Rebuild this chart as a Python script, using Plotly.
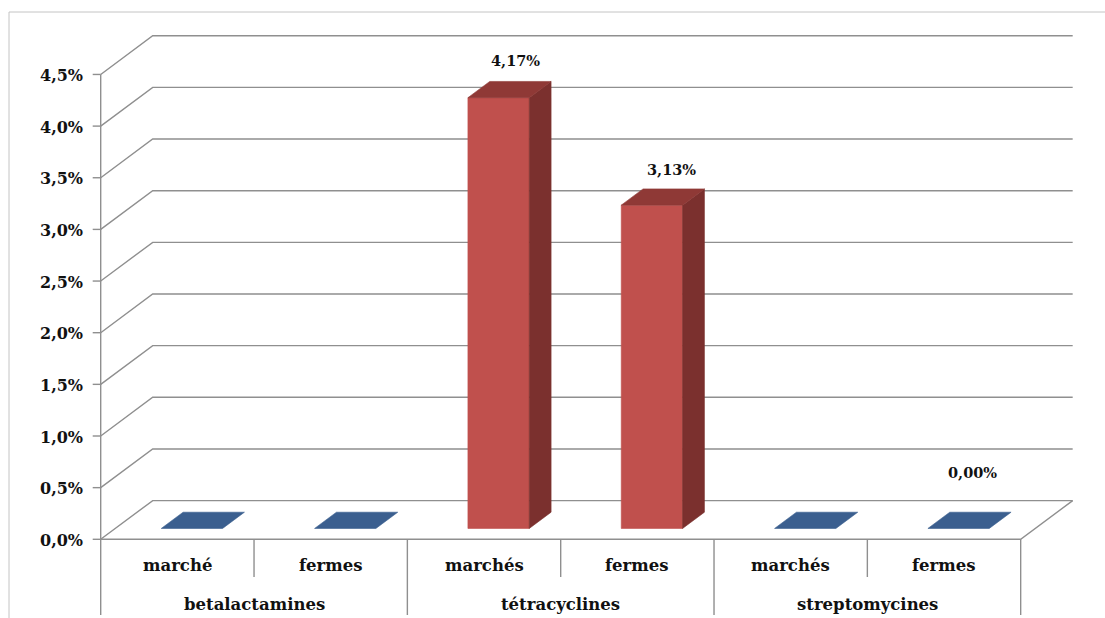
import plotly.graph_objects as go

# ---------------- data ----------------
groups = ["betalactamines", "tétracyclines", "streptomycines"]
subcategories = ["marché", "fermes", "marchés", "fermes", "marchés", "fermes"]
values = [0.0, 0.0, 4.17, 3.13, 0.0, 0.0]
value_label_shown = [False, False, True, True, False, True]
y_tick_values = [0.0, 0.5, 1.0, 1.5, 2.0, 2.5, 3.0, 3.5, 4.0, 4.5]
y_tick_labels = ["0,0%", "0,5%", "1,0%", "1,5%", "2,0%", "2,5%", "3,0%", "3,5%", "4,0%", "4,5%"]

# ---------------- style / geometry ----------------
W, H = 1105, 618
X0_PX, SLOT_PX = 100.7, 153.33      # front-left origin and category slot width (px)
Y0_PX, UNIT_PX = 539.3, 103.3       # 0% baseline and px per 1 %
DEPTH_U = 52.0 / SLOT_PX            # 3D depth offset in x data units
DEPTH_V = 38.7 / UNIT_PX            # 3D depth offset in y data units
BAR_W = 0.40
BAR_FRONT, BAR_BACK = 0.28, 0.70    # bar depth span (fraction of floor depth)
TICK_LEN = 8.0 / SLOT_PX
GRID = "#8f8f8f"
FONT = "DejaVu Serif"
bar_palette = ["#3B5F8F", "#3B5F8F", "#C0504D", "#C0504D", "#3B5F8F", "#3B5F8F"]
side_palette = ["#2E4B71", "#2E4B71", "#7B302E", "#7B302E", "#2E4B71", "#2E4B71"]
top_palette = ["#3B5F8F", "#3B5F8F", "#8F3936", "#8F3936", "#3B5F8F", "#3B5F8F"]
label_lift_px = [18, 18, 18, 17, 37, 37]
label_shift_px = [-4, -4, -5, -2, -8, -8]

def vpx(px):
    return (Y0_PX - px) / UNIT_PX

x_range = [-X0_PX / SLOT_PX, (W - X0_PX) / SLOT_PX]
y_range = [vpx(H), vpx(0)]
n = len(values)

fig = go.Figure()

# ---------------- walls / gridlines ----------------
gx, gy = [], []
for t in y_tick_values:
    gx += [0, DEPTH_U, n + DEPTH_U, None]
    gy += [t, t + DEPTH_V, t + DEPTH_V, None]
    gx += [-TICK_LEN, 0, None]
    gy += [t, t, None]
# floor front edge and right edge
gx += [0, n, n + DEPTH_U, None]
gy += [0, 0, DEPTH_V, None]
# front value axis + category dividers
lvl1_bottom = vpx(577)
lvl2_bottom = vpx(615)
gx += [0, 0, None]
gy += [y_tick_values[-1], lvl2_bottom, None]
for k in range(1, n + 1):
    gx += [k, k, None]
    gy += [0, lvl2_bottom if k % 2 == 0 else lvl1_bottom, None]
fig.add_trace(go.Scatter(x=gx, y=gy, mode="lines", line=dict(color=GRID, width=1.4),
                         hoverinfo="skip"))

# ---------------- 3D bars ----------------
fu, fv = BAR_FRONT * DEPTH_U, BAR_FRONT * DEPTH_V
bu, bv = BAR_BACK * DEPTH_U, BAR_BACK * DEPTH_V

def poly(xs, ys, color):
    fig.add_trace(go.Scatter(x=xs + [xs[0]], y=ys + [ys[0]], mode="lines", fill="toself",
                             fillcolor=color, line=dict(color=color, width=0.6),
                             hoverinfo="skip"))

for k, val in enumerate(values):
    left = k + 0.5 - BAR_W / 2
    right = left + BAR_W
    if val > 0:
        poly([left + fu, right + fu, right + fu, left + fu],
             [fv, fv, val + fv, val + fv], bar_palette[k])
        poly([right + fu, right + bu, right + bu, right + fu],
             [fv, bv, val + bv, val + fv], side_palette[k])
    poly([left + fu, right + fu, right + bu, left + bu],
         [val + fv, val + fv, val + bv, val + bv], top_palette[k])

# ---------------- text ----------------
ann = []
for t, lab in zip(y_tick_values, y_tick_labels):
    ann.append(dict(x=0, y=t, text=lab, xanchor="right", yanchor="middle", xshift=-16, yshift=-1,
                    showarrow=False, font=dict(family=FONT, size=16, color="#111", weight="bold")))
for k, lab in enumerate(subcategories):
    ann.append(dict(x=k + 0.5, y=vpx(565), text=lab, xanchor="center", yanchor="middle",
                    showarrow=False, font=dict(family=FONT, size=16.5, color="#111", weight="bold")))
for g, lab in enumerate(groups):
    ann.append(dict(x=2 * g + 1, y=vpx(604), text=lab, xanchor="center", yanchor="middle",
                    showarrow=False, font=dict(family=FONT, size=16.5, color="#111", weight="bold")))
for k, val in enumerate(values):
    if value_label_shown[k]:
        ann.append(dict(x=k + 0.5 + bu, y=val + bv, text=f"{val:.2f}%".replace(".", ","),
                        xanchor="center", yanchor="bottom", yshift=label_lift_px[k] - 8,
                        xshift=label_shift_px[k], showarrow=False,
                        font=dict(family=FONT, size=14.5, color="#111", weight="bold")))

fig.update_layout(
    width=W, height=H, margin=dict(l=0, r=0, t=0, b=0),
    paper_bgcolor="white", plot_bgcolor="white", showlegend=False,
    xaxis=dict(range=x_range, visible=False, fixedrange=True),
    yaxis=dict(range=y_range, visible=False, fixedrange=True),
    annotations=ann,
    shapes=[dict(type="rect", xref="paper", yref="paper", x0=9 / W, x1=1.2,
                 y0=-0.2, y1=1 - 12 / H, line=dict(color="#c4c4c4", width=1),
                 fillcolor="rgba(0,0,0,0)", layer="below")],
)

fig.write_html("out.html", config={"displayModeBar": False})
